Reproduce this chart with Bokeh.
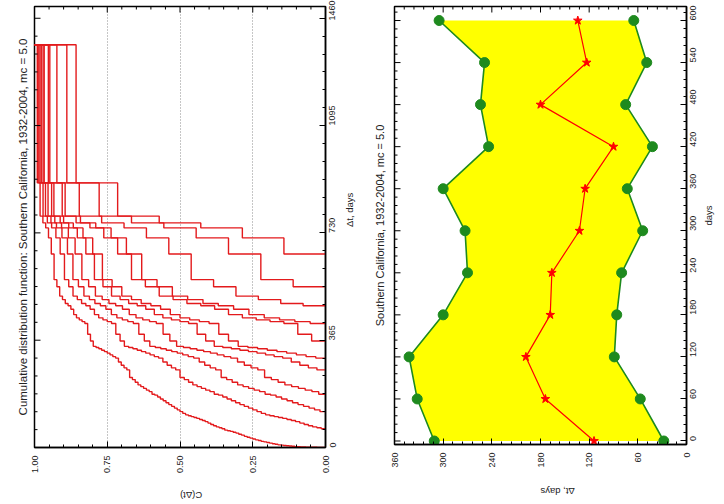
from math import pi
from bokeh.plotting import figure
from bokeh.models import Range1d, FixedTicker, ColumnDataSource, Title
from bokeh.layouts import row
from bokeh.embed import file_html
from bokeh.resources import INLINE

# ---------------- data ----------------
# inter-event intervals (days)
intervals = [0, 0, 0, 1, 1, 1, 1, 2, 2, 3, 3, 4, 5, 6, 7, 8, 9, 11, 13, 15,
             17, 19, 21, 24, 26, 29, 32, 35, 38, 42, 45, 49,
             52, 55, 57, 59, 64, 67, 70, 74, 78, 83, 88,
             92, 95, 99, 102, 105, 108, 111,
             116, 122, 128, 134, 140, 146,
             152, 159, 165, 172, 178,
             181, 190, 195, 201, 207, 213, 222, 231, 238,
             264, 271, 280, 291,
             304, 309, 315,
             321, 326, 331, 336, 340, 344,
             362, 385, 422,
             428, 434, 441, 452, 470,
             482, 490, 503, 515,
             547, 571,
             658, 713, 747, 764, 787, 900, 1370]
# elapsed time since last event (days)
elapsed_days = [0, 60, 120, 180, 240, 300, 360, 420, 480, 540, 600]
# right panel: waiting-time statistics (days)
dt_upper = [311, 332, 342, 300, 270, 273, 300, 244, 254, 249, 305]
dt_median = [114, 174, 198, 168, 166, 132, 125, 90, 180, 123, 134]
dt_lower = [28, 57, 89, 86, 80, 54, 73, 42, 75, 49, 65]

cdf_ticks = [0.0, 0.25, 0.5, 0.75, 1.0]
dt_ticks_left = [0, 365, 730, 1095, 1460]
day_ticks = [0, 60, 120, 180, 240, 300, 360, 420, 480, 540, 600]
dt_ticks_right = [0, 60, 120, 180, 240, 300, 360]

title_left = "Cumulative distribution function: Southern California, 1932-2004, mc = 5.0"
title_right = "Southern California, 1932-2004, mc = 5.0"

# ---------------- helpers ----------------
FONT = "Liberation Sans"
TXT = "#222222"


def style_axis(ax, standoff, label, label_standoff, orient):
    ax.major_tick_in = 6
    ax.major_tick_out = 0
    ax.minor_tick_in = 3
    ax.minor_tick_out = 0
    ax.axis_line_width = 1.5
    ax.axis_line_color = "black"
    ax.major_tick_line_color = "black"
    ax.minor_tick_line_color = "black"
    ax.major_label_text_font = FONT
    ax.major_label_text_font_size = "9px"
    ax.major_label_text_color = TXT
    ax.major_label_orientation = pi / 2
    ax.major_label_standoff = standoff
    ax.axis_label = label
    ax.axis_label_text_font = FONT
    ax.axis_label_text_font_size = "9.5px"
    ax.axis_label_text_font_style = "normal"
    ax.axis_label_text_color = TXT
    ax.axis_label_standoff = label_standoff
    ax.axis_label_orientation = orient


def mirror_ticks(p, ticks, minor, side, other_edge, other_span, other_px):
    """inward tick marks on the top / left frame edges (positions from the tick lists)"""
    for vals, length in ((ticks, 6), (minor, 3)):
        d = length * other_span / other_px
        if side == "above":
            p.segment(x0=vals, y0=[other_edge] * len(vals), x1=vals,
                      y1=[other_edge - d] * len(vals), line_color="black", line_width=1)
        else:
            p.segment(x0=[other_edge] * len(vals), y0=vals, x1=[other_edge - d] * len(vals),
                      y1=vals, line_color="black", line_width=1)


def add_title(p, text, standoff, size):
    p.add_layout(Title(text=text, align="center", text_font=FONT, text_font_size=size,
                       text_font_style="normal", text_color=TXT, standoff=standoff), "left")


# ---------------- left panel: conditional CDFs ----------------
FW1, FH1 = 291, 441
p1 = figure(frame_width=FW1, frame_height=FH1, x_range=Range1d(1, 0), y_range=Range1d(0, 1500),
            output_backend="svg", toolbar_location=None, y_axis_location="right",
            min_border_left=34, min_border_right=37, min_border_top=6, min_border_bottom=56,
            background_fill_color="white", border_fill_color="white")
p1.outline_line_color = "black"
p1.outline_line_width = 1.5

xs, ys = [], []
for T in elapsed_days:
    s = sorted(v for v in intervals if v >= T)
    m = len(s)
    cx, cy = [], []
    for i, v in enumerate(s):
        cx += [i / m, (i + 1) / m]
        cy += [v, v]
    xs.append(cx)
    ys.append(cy)
p1.multi_line(xs=xs, ys=ys, line_color="#e31a1c", line_width=1.4)

cdf_minor = [k * 0.05 for k in range(21) if k % 5]
day_minor_left = [k * 365 / 6 for k in range(1, 25) if k % 6]
xt1 = FixedTicker(ticks=cdf_ticks, minor_ticks=cdf_minor)
yt1 = FixedTicker(ticks=dt_ticks_left, minor_ticks=day_minor_left)
p1.xaxis.ticker = xt1
p1.yaxis.ticker = yt1
p1.xaxis.major_label_overrides = {t: f"{t:.2f}" for t in cdf_ticks}
style_axis(p1.xaxis[0], 8, "C(\u0394t)", 19, pi)
style_axis(p1.yaxis[0], 7, "\u0394t, days", 8, pi / 2)
p1.xgrid.ticker = xt1
p1.xgrid.grid_line_color = "#8c8c8c"
p1.xgrid.grid_line_dash = "1 2"
p1.ygrid.visible = False
mirror_ticks(p1, cdf_ticks, cdf_minor, "above", 1500, 1500, FH1)
mirror_ticks(p1, dt_ticks_left, day_minor_left, "left", 1.0, 1.0, FW1)
add_title(p1, title_left, 12, "11.5px")

# ---------------- right panel: waiting-time band ----------------
FW2, FH2 = 292, 438
p2 = figure(frame_width=FW2, frame_height=FH2, x_range=Range1d(360, 0), y_range=Range1d(-5, 620),
            output_backend="svg", toolbar_location=None, y_axis_location="right",
            min_border_left=31, min_border_right=36, min_border_top=4, min_border_bottom=61,
            background_fill_color="white", border_fill_color="white")
p2.outline_line_color = "black"
p2.outline_line_width = 1.5
p2.grid.visible = False

band = ColumnDataSource(dict(x=dt_upper + dt_lower[::-1], y=elapsed_days + elapsed_days[::-1]))
p2.patch("x", "y", source=band, fill_color="#ffff00", line_color=None)

src = ColumnDataSource(dict(days=elapsed_days, up=dt_upper, med=dt_median, lo=dt_lower))
GREEN = "#1e8a1e"
p2.line("up", "days", source=src, line_color=GREEN, line_width=1.6)
p2.line("lo", "days", source=src, line_color=GREEN, line_width=1.6)
p2.scatter("up", "days", source=src, marker="circle", size=10, fill_color=GREEN, line_color=GREEN)
p2.scatter("lo", "days", source=src, marker="circle", size=10, fill_color=GREEN, line_color=GREEN)
p2.line("med", "days", source=src, line_color="#ff0000", line_width=1.2)
p2.scatter("med", "days", source=src, marker="star", size=9, fill_color="#ff0000", line_color="#ff0000")

dt_minor = [k * 12 for k in range(31) if k % 5]
day_minor = [k * 12 for k in range(52) if k % 5]
xt2 = FixedTicker(ticks=dt_ticks_right, minor_ticks=dt_minor)
yt2 = FixedTicker(ticks=day_ticks, minor_ticks=day_minor)
p2.xaxis.ticker = xt2
p2.yaxis.ticker = yt2
style_axis(p2.xaxis[0], 8, "\u0394t, days", 21, pi)
style_axis(p2.yaxis[0], 7, "days", 6, pi / 2)
mirror_ticks(p2, dt_ticks_right, dt_minor, "above", 620, 625, FH2)
mirror_ticks(p2, day_ticks, day_minor, "left", 360, 360, FW2)
add_title(p2, title_right, 17, "11px")

layout = row(p1, p2)
open("out.html", "w").write(file_html(layout, INLINE))
